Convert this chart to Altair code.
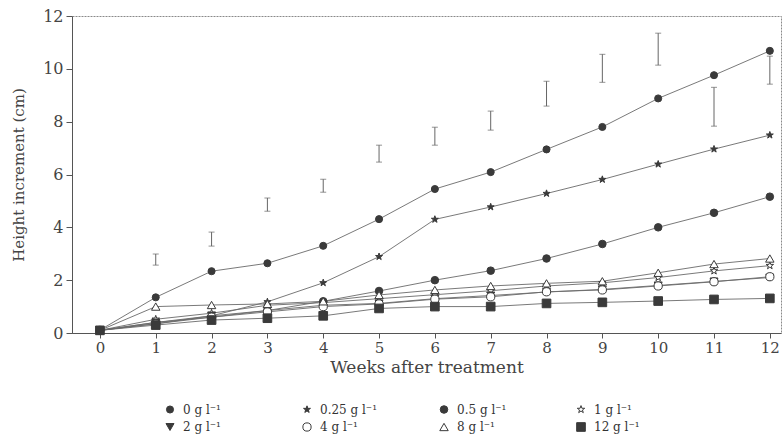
import altair as alt
import pandas as pd

weeks = list(range(13))
labels = ["0 g l⁻¹", "0.25 g l⁻¹", "0.5 g l⁻¹", "1 g l⁻¹",
          "2 g l⁻¹", "4 g l⁻¹", "8 g l⁻¹", "12 g l⁻¹"]
v0 = [0.11, 1.35, 2.34, 2.64, 3.30, 4.31, 5.45, 6.09, 6.95, 7.80, 8.88, 9.76, 10.68]
v025 = [0.10, 0.35, 0.65, 1.18, 1.90, 2.89, 4.30, 4.77, 5.28, 5.81, 6.39, 6.96, 7.49]
v05 = [0.10, 0.40, 0.60, 0.85, 1.20, 1.59, 2.00, 2.36, 2.82, 3.37, 4.00, 4.55, 5.16]
v1 = [0.10, 0.52, 0.75, 1.05, 1.15, 1.30, 1.45, 1.60, 1.78, 1.90, 2.10, 2.35, 2.55]
v2 = [0.10, 0.40, 0.65, 0.85, 1.05, 1.12, 1.30, 1.42, 1.55, 1.65, 1.80, 1.95, 2.10]
v4 = [0.10, 0.35, 0.60, 0.80, 1.00, 1.10, 1.28, 1.37, 1.56, 1.63, 1.78, 1.94, 2.13]
v8 = [0.10, 1.00, 1.06, 1.10, 1.20, 1.44, 1.63, 1.78, 1.88, 1.96, 2.28, 2.61, 2.82]
v12 = [0.10, 0.30, 0.49, 0.56, 0.65, 0.93, 1.00, 1.00, 1.12, 1.16, 1.21, 1.27, 1.31]
all_values = [v0, v025, v05, v1, v2, v4, v8, v12]

err_weeks = list(range(1, 13))
err_lo = [2.57, 3.29, 4.61, 5.33, 6.47, 7.11, 7.68, 8.59, 9.49, 10.14, 7.83, 9.42]
err_hi = [2.99, 3.82, 5.11, 5.82, 7.11, 7.79, 8.40, 9.53, 10.55, 11.35, 9.30, 10.48]

rows = []
for lab, vals in zip(labels, all_values):
    for w, v in zip(weeks, vals):
        rows.append({"week": w, "height": v, "conc": lab})
df = pd.DataFrame(rows)
err = pd.DataFrame({"week": err_weeks, "lo": err_lo, "hi": err_hi})

star = "M0,-1L0.23,-0.32L0.95,-0.31L0.38,0.12L0.59,0.81L0,0.38L-0.59,0.81L-0.38,0.12L-0.95,-0.31L-0.23,-0.32Z"
dark = "#3a3a3a"
shapes = ["circle", star, "circle", star, "triangle-down", "circle", "triangle-up", "square"]
fills = [dark, dark, dark, "white", dark, "white", "white", dark]
strokes = [dark] * 8
sizes = [50, 75, 28, 85, 45, 85, 60, 40]
widths = [1, 1, 2.5, 1, 1, 2.2, 1.3, 1]

font = "DejaVu Serif"
xs = alt.Scale(domain=[-0.5, 12.2], nice=False, zero=False)
ys = alt.Scale(domain=[0, 12], nice=False)

xax = alt.Axis(values=list(range(13)), format="d", title="Weeks after treatment", tickSize=5,
               labelPadding=2, titlePadding=4, labelFontSize=15, titleFontSize=17)
yax = alt.Axis(values=list(range(0, 13, 2)), format="d", title="Height increment (cm)", tickSize=6,
               labelPadding=3, titlePadding=16, labelFontSize=16, titleFontSize=15)

base = alt.Chart(df)
lines = base.mark_line(color="#6a6a6a", strokeWidth=0.9).encode(
    x=alt.X("week:Q", scale=xs, axis=xax),
    y=alt.Y("height:Q", scale=ys, axis=yax),
    detail="conc:N",
)

legend = alt.Legend(title=None, orient="none", legendX=92, legendY=387, columns=4,
                    direction="horizontal", gridAlign="all", columnPadding=59,
                    rowPadding=4, labelFont=font, labelFontSize=12, labelColor="#333",
                    labelOffset=7)

points = base.mark_point(opacity=1, fillOpacity=1).encode(
    x="week:Q",
    y="height:Q",
    shape=alt.Shape("conc:N", scale=alt.Scale(domain=labels, range=shapes), legend=legend),
    fill=alt.Fill("conc:N", scale=alt.Scale(domain=labels, range=fills), legend=legend),
    stroke=alt.Stroke("conc:N", scale=alt.Scale(domain=labels, range=strokes), legend=legend),
    size=alt.Size("conc:N", scale=alt.Scale(domain=labels, range=sizes), legend=legend),
    strokeWidth=alt.StrokeWidth("conc:N", scale=alt.Scale(domain=labels, range=widths), legend=legend),
)

ebase = alt.Chart(err)
erule = ebase.mark_rule(color="#666", strokeWidth=1).encode(
    x="week:Q", y="lo:Q", y2="hi:Q")
ecap_lo = ebase.mark_tick(orient="horizontal", size=6, thickness=1, color="#666").encode(
    x="week:Q", y="lo:Q")
ecap_hi = ebase.mark_tick(orient="horizontal", size=6, thickness=1, color="#666").encode(
    x="week:Q", y="hi:Q")

chart = alt.layer(lines, erule, ecap_lo, ecap_hi, points).properties(
    width=709, height=317,
    background="white",
    autosize=alt.AutoSizeParams(type="none"),
    padding={"left": 72, "top": 16, "right": 2, "bottom": 107},
).configure_view(
    stroke="#8a8a8a", strokeWidth=1, strokeDash=[2, 1]
).configure_axis(
    grid=False, labelFont=font, titleFont=font, labelColor="#444", titleColor="#444",
    titleFontWeight="normal", domainColor="#555", tickColor="#555",
)

chart.save("out.html", embed_options={"renderer": "svg", "actions": False})
